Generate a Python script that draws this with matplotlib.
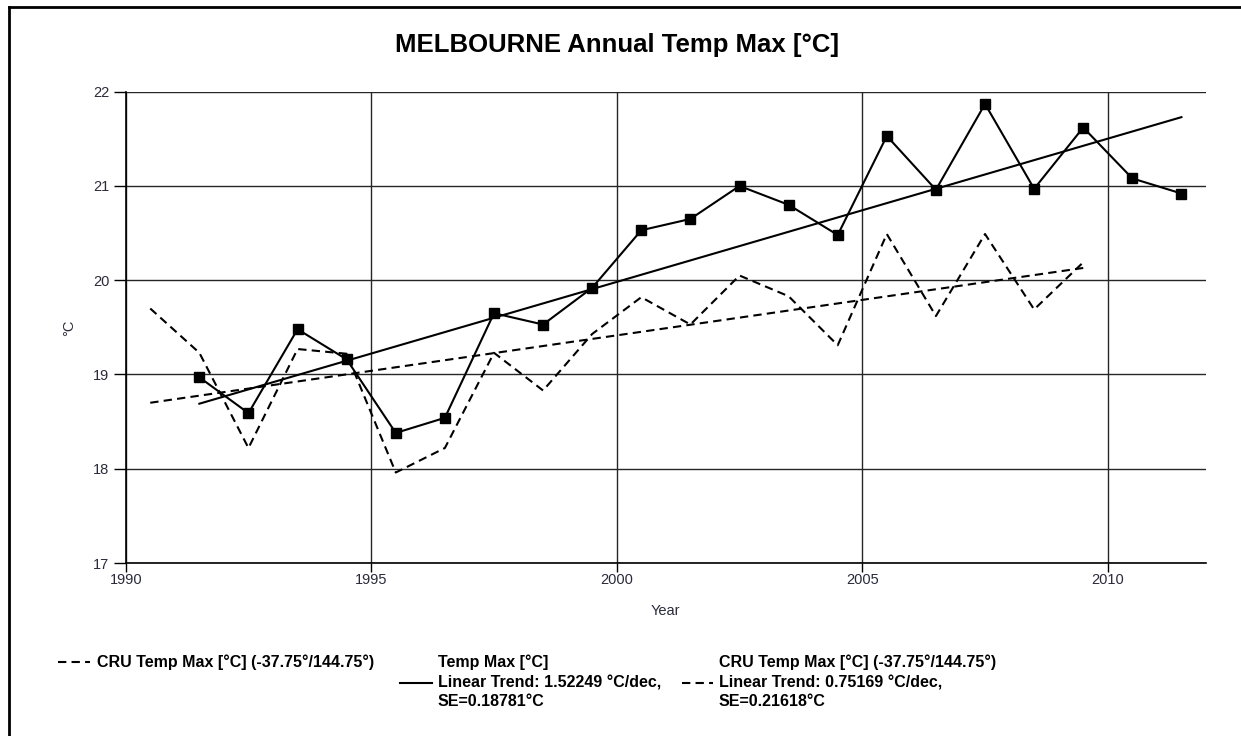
import matplotlib
matplotlib.use("Agg")
import matplotlib.pyplot as plt
from matplotlib.lines import Line2D

plt.rcParams['font.family'] = ['Liberation Sans', 'DejaVu Sans']

# ---- data ----
years_temp = [1991.5, 1992.5, 1993.5, 1994.5, 1995.5, 1996.5, 1997.5, 1998.5, 1999.5, 2000.5,
              2001.5, 2002.5, 2003.5, 2004.5, 2005.5, 2006.5, 2007.5, 2008.5, 2009.5, 2010.5, 2011.5]
temp_max = [18.97, 18.59, 19.48, 19.16, 18.38, 18.54, 19.65, 19.53, 19.92, 20.53,
            20.65, 21.00, 20.80, 20.48, 21.53, 20.96, 21.87, 20.97, 21.62, 21.08, 20.92]

years_cru = [1990.5, 1991.5, 1992.5, 1993.5, 1994.5, 1995.5, 1996.5, 1997.5, 1998.5, 1999.5,
             2000.5, 2001.5, 2002.5, 2003.5, 2004.5, 2005.5, 2006.5, 2007.5, 2008.5, 2009.5]
cru_max = [19.70, 19.23, 18.22, 19.27, 19.22, 17.96, 18.22, 19.23, 18.83, 19.43,
           19.82, 19.53, 20.05, 19.83, 19.31, 20.49, 19.62, 20.49, 19.69, 20.19]

trend_temp_years = [1991.5, 2011.5]
trend_temp_vals = [18.69, 21.73]
trend_cru_years = [1990.5, 2009.5]
trend_cru_vals = [18.70, 20.13]

x_ticks = [1990, 1995, 2000, 2005, 2010]
y_ticks = [17, 18, 19, 20, 21, 22]

title = "MELBOURNE Annual Temp Max [°C]"
legend_cru = "CRU Temp Max [°C] (-37.75°/144.75°)"
legend_trend_temp = ["Temp Max [°C]", "Linear Trend: 1.52249 °C/dec,", "SE=0.18781°C"]
legend_trend_cru = ["CRU Temp Max [°C] (-37.75°/144.75°)", "Linear Trend: 0.75169 °C/dec,", "SE=0.21618°C"]

# ---- figure ----
W, H = 1241, 736
fig = plt.figure(figsize=(W / 100, H / 100), dpi=100)
ax = fig.add_axes([125.7 / W, 1 - 563 / H, (1206 - 125.7) / W, (563 - 91.7) / H])

dash = (0, (4, 2.5))
ax.plot(years_cru, cru_max, color='black', lw=1.5, linestyle=dash, zorder=3)
ax.plot(years_temp, temp_max, color='black', lw=1.5, marker='s', markersize=7.5, zorder=4)
ax.plot(trend_temp_years, trend_temp_vals, color='black', lw=1.5, zorder=3)
ax.plot(trend_cru_years, trend_cru_vals, color='black', lw=1.5, linestyle=dash, zorder=3)

ax.set_xlim(1990, 2012)
ax.set_ylim(17, 22)
ax.set_xticks(x_ticks)
ax.set_yticks(y_ticks)
ax.grid(True, color='#262626', lw=1.0, zorder=1)
for s in ['top', 'right']:
    ax.spines[s].set_visible(False)
for s in ['left', 'bottom']:
    ax.spines[s].set_color('black')
    ax.spines[s].set_linewidth(1.2)
ax.tick_params(axis='y', direction='out', length=8.8, width=1.0, colors='black',
               labelsize=10.5, labelcolor='#2a2a3a', pad=3)
ax.tick_params(axis='x', direction='out', length=6.5, width=1.0, colors='black',
               labelsize=10.5, labelcolor='#2a2a3a', pad=1)
ax.set_xlabel("Year", fontsize=10.5, labelpad=12, color='#2a2a3a')
ax.set_ylabel("°C", fontsize=10.5, labelpad=12, color='#2a2a3a')

fig.text(617 / W, 1 - 45 / H, title, ha='center', va='center', fontsize=18.5, fontweight='bold')

# frame lines (top and left)
fig.add_artist(Line2D([9 / W, 1.0], [1 - 7 / H, 1 - 7 / H], color='black', lw=2))
fig.add_artist(Line2D([9 / W, 9 / W], [1 - 7 / H, 0.0], color='black', lw=2))

# ---- legend ----
def fy(y):
    return 1 - y / H

def fx(x):
    return x / W

lfs = 11.5
line_ys = [662, 683, 702]
fig.add_artist(Line2D([fx(58), fx(90)], [fy(662), fy(662)], color='black', lw=1.5, linestyle=dash))
fig.text(fx(97), fy(662), legend_cru, ha='left', va='center', fontsize=lfs, fontweight='bold')

fig.add_artist(Line2D([fx(400), fx(432)], [fy(683), fy(683)], color='black', lw=1.5))
for txt, yy in zip(legend_trend_temp, line_ys):
    fig.text(fx(438), fy(yy), txt, ha='left', va='center', fontsize=lfs, fontweight='bold')

fig.add_artist(Line2D([fx(682), fx(713)], [fy(683), fy(683)], color='black', lw=1.5, linestyle=dash))
for txt, yy in zip(legend_trend_cru, line_ys):
    fig.text(fx(719), fy(yy), txt, ha='left', va='center', fontsize=lfs, fontweight='bold')

fig.savefig("out.png", dpi=100)
